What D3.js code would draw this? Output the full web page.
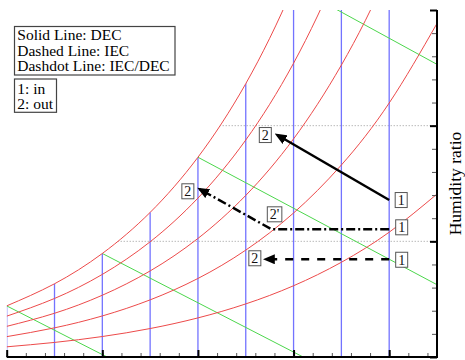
<!DOCTYPE html>
<html>
<head>
<meta charset="utf-8">
<script src="https://cdn.jsdelivr.net/npm/d3@7"></script>
<style>
  body { margin: 0; background: #fff; }
  svg { display: block; font-family: "Liberation Serif", "Times New Roman", serif; }
</style>
</head>
<body>
<div id="vis"></div>
<script>
// dry bulb temperature (deg C) where the curves were read
var temps = [0, 5, 10, 15, 20, 25, 30, 35, 40, 45];

// humidity ratio (g/kg) along each relative humidity curve
var rh100 = [4.42, 6.33, 8.95, 12.50, 17.27, 23.63, 32.08, 43.24, 57.98, 77.49];
var rh80 = [3.53, 5.06, 7.14, 9.96, 13.74, 18.76, 25.40, 34.12, 45.54, 60.48];
var rh60 = [2.65, 3.78, 5.34, 7.44, 10.25, 13.97, 18.86, 25.24, 33.54, 44.29];
var rh40 = [1.76, 2.52, 3.55, 4.94, 6.79, 9.24, 12.45, 16.60, 21.96, 28.84];
var rh20 = [0.88, 1.26, 1.77, 2.46, 3.38, 4.59, 6.16, 8.19, 10.79, 14.09];

// dry bulb lines
var dryBulb = [0, 5, 10, 15, 20, 25, 30, 35, 40];

// wet bulb lines: [T, w] on saturation -> [T, w] at the chart edge
var wetStart = [[0, 4.42], [10, 8.95], [20, 17.27], [30, 32.08]];
var wetEnd = [[10.5, 0], [31.0, 0], [45, 6.25], [45, 25.3]];

// dotted humidity ratio grid
var gridW = [10, 20];

// processes [T, w]
var decPts = [[40, 13.57], [28.3, 19.19]];
var iecPts = [[40, 8.45], [27.1, 8.45]];
var iecDecPts = [[40, 11.04], [27.7, 11.04], [20.2, 14.5]];

var legendLines = ['Solid Line: DEC', 'Dashed Line: IEC', 'Dashdot Line: IEC/DEC'];
var keyLines = ['1: in', '2: out'];
var yTitle = 'Humidity ratio';

var xMajor = [0, 10, 20, 30, 40];
var yMajor = [0, 10, 20, 30];

var width = 465;
var height = 360;
var plot = { left: 6.7, right: 437, top: 10, bottom: 357 };

var x = d3.scaleLinear().domain([0, 45]).range([plot.left, plot.right]);
var y = d3.scaleLinear().domain([0, 30]).range([plot.bottom, plot.top]);

var svg = d3.select('#vis').append('svg')
  .attr('width', width)
  .attr('height', height);

var defs = svg.append('defs');

defs.append('clipPath').attr('id', 'plot-clip')
  .append('rect')
  .attr('x', plot.left)
  .attr('y', plot.top)
  .attr('width', plot.right - plot.left)
  .attr('height', plot.bottom - plot.top);

var satPts = temps.map(function (t, i) { return [t, rh100[i]]; });

defs.append('clipPath').attr('id', 'sat-clip')
  .append('path')
  .attr('d', d3.area()
    .x(function (d) { return x(d[0]); })
    .y0(plot.bottom)
    .y1(function (d) { return y(d[1]); })
    .curve(d3.curveNatural)(satPts));

defs.append('marker')
  .attr('id', 'arrow')
  .attr('viewBox', '0 0 12 10')
  .attr('refX', 9)
  .attr('refY', 5)
  .attr('markerWidth', 12)
  .attr('markerHeight', 10)
  .attr('markerUnits', 'userSpaceOnUse')
  .attr('orient', 'auto')
  .append('path')
  .attr('d', 'M0,0L12,5L0,10z')
  .attr('fill', '#000');

var plotG = svg.append('g').attr('clip-path', 'url(#plot-clip)');
var underSat = plotG.append('g').attr('clip-path', 'url(#sat-clip)');

// dotted grid
underSat.selectAll('.grid')
  .data(gridW)
  .enter().append('line')
  .attr('x1', x(0))
  .attr('x2', x(45))
  .attr('y1', function (d) { return y(d); })
  .attr('y2', function (d) { return y(d); })
  .attr('stroke', '#999')
  .attr('stroke-width', 1)
  .attr('stroke-dasharray', '1,2');

// dry bulb lines
underSat.selectAll('.dry')
  .data(dryBulb)
  .enter().append('line')
  .attr('x1', function (d) { return x(d); })
  .attr('x2', function (d) { return x(d); })
  .attr('y1', y(0))
  .attr('y2', y(80))
  .attr('stroke', '#7373ff')
  .attr('stroke-width', 1.3);

// wet bulb lines
plotG.selectAll('.wet')
  .data(wetStart)
  .enter().append('line')
  .attr('x1', function (d) { return x(d[0]); })
  .attr('y1', function (d) { return y(d[1]); })
  .attr('x2', function (d, i) { return x(wetEnd[i][0]); })
  .attr('y2', function (d, i) { return y(wetEnd[i][1]); })
  .attr('stroke', '#4cd64c')
  .attr('stroke-width', 1);

// relative humidity curves
var rhLine = d3.line()
  .x(function (d) { return x(d[0]); })
  .y(function (d) { return y(d[1]); })
  .curve(d3.curveNatural);

[rh100, rh80, rh60, rh40, rh20].forEach(function (series) {
  plotG.append('path')
    .attr('d', rhLine(temps.map(function (t, i) { return [t, series[i]]; })))
    .attr('fill', 'none')
    .attr('stroke', '#ec4a4a')
    .attr('stroke-width', 1);
});

// axes (ticks pointing inward, no labels)
function styleAxis(g, major) {
  g.select('.domain').remove();
  g.selectAll('text').remove();
  g.selectAll('line')
    .attr('stroke', major ? '#000' : '#555')
    .attr('stroke-width', major ? 2 : 1);
}

svg.append('g')
  .attr('transform', 'translate(0,' + plot.bottom + ')')
  .call(d3.axisTop(x).tickValues(d3.range(0, 45, 2)).tickSize(4).tickFormat(''))
  .call(styleAxis, false);
svg.append('g')
  .attr('transform', 'translate(0,' + plot.bottom + ')')
  .call(d3.axisTop(x).tickValues(xMajor).tickSize(7).tickFormat(''))
  .call(styleAxis, true);

svg.append('g')
  .attr('transform', 'translate(' + plot.right + ',0)')
  .call(d3.axisLeft(y).tickValues(d3.range(0, 31, 2)).tickSize(5).tickFormat(''))
  .call(styleAxis, false);
svg.append('g')
  .attr('transform', 'translate(' + plot.right + ',0)')
  .call(d3.axisLeft(y).tickValues(yMajor).tickSize(7).tickFormat(''))
  .call(styleAxis, true);

svg.append('line')
  .attr('x1', plot.left).attr('x2', plot.right + 1)
  .attr('y1', plot.bottom).attr('y2', plot.bottom)
  .attr('stroke', '#000').attr('stroke-width', 2);
svg.append('line')
  .attr('x1', plot.right).attr('x2', plot.right)
  .attr('y1', plot.top).attr('y2', plot.bottom + 1)
  .attr('stroke', '#000').attr('stroke-width', 2);

svg.append('text')
  .attr('transform', 'translate(461,' + ((plot.top + plot.bottom) / 2) + ') rotate(-90)')
  .attr('text-anchor', 'middle')
  .style('font-size', '17.5px')
  .attr('fill', '#000')
  .text(yTitle);

// process lines
var procLine = d3.line()
  .x(function (d) { return x(d[0]); })
  .y(function (d) { return y(d[1]); });

svg.append('path')
  .attr('d', procLine(decPts))
  .attr('fill', 'none')
  .attr('stroke', '#000')
  .attr('stroke-width', 2.5)
  .attr('marker-end', 'url(#arrow)');

svg.append('path')
  .attr('d', procLine(iecPts))
  .attr('fill', 'none')
  .attr('stroke', '#000')
  .attr('stroke-width', 2.5)
  .attr('stroke-dasharray', '8,8')
  .attr('marker-end', 'url(#arrow)');

svg.append('path')
  .attr('d', procLine(iecDecPts))
  .attr('fill', 'none')
  .attr('stroke', '#000')
  .attr('stroke-width', 2.5)
  .attr('stroke-dasharray', '9,3,2,3')
  .attr('marker-end', 'url(#arrow)');

// state point labels
function stateLabel(txt, pt, dx, dy) {
  var g = svg.append('g')
    .attr('transform', 'translate(' + (x(pt[0]) + dx) + ',' + (y(pt[1]) + dy) + ')');
  var t = g.append('text')
    .attr('text-anchor', 'middle')
    .attr('y', 5)
    .style('font-size', '14px')
    .attr('fill', '#111')
    .text(txt);
  var w = t.node().getComputedTextLength() + 5;
  g.insert('rect', 'text')
    .attr('x', -w / 2)
    .attr('y', -7.5)
    .attr('width', w)
    .attr('height', 15)
    .attr('fill', '#fff')
    .attr('stroke', '#555')
    .attr('stroke-width', 1);
}

stateLabel('1', decPts[0], 12, 0);
stateLabel('2', decPts[1], -12, 0);
stateLabel('1', iecDecPts[0], 12.5, -2);
stateLabel("2'", iecDecPts[1], 3, -15);
stateLabel('2', iecDecPts[2], -12, 2);
stateLabel('1', iecPts[0], 12.5, 0.5);
stateLabel('2', iecPts[1], -11, -1);

// legend boxes
var legend = svg.append('g');
legend.append('rect')
  .attr('x', 14.5).attr('y', 26.5)
  .attr('width', 160.5).attr('height', 48.5)
  .attr('fill', '#fff').attr('stroke', '#444').attr('stroke-width', 1.2);
legend.selectAll('.leg')
  .data(legendLines)
  .enter().append('text')
  .attr('x', 17.3)
  .attr('y', function (d, i) { return 39.8 + i * 15.7; })
  .style('font-size', '15.5px')
  .attr('fill', '#000')
  .text(function (d) { return d; });

legend.append('rect')
  .attr('x', 14.5).attr('y', 79)
  .attr('width', 42).attr('height', 33.3)
  .attr('fill', '#fff').attr('stroke', '#444').attr('stroke-width', 1.2);
legend.selectAll('.key')
  .data(keyLines)
  .enter().append('text')
  .attr('x', 17.3)
  .attr('y', function (d, i) { return 93.5 + i * 15.5; })
  .style('font-size', '15.5px')
  .attr('fill', '#000')
  .text(function (d) { return d; });
</script>
</body>
</html>
